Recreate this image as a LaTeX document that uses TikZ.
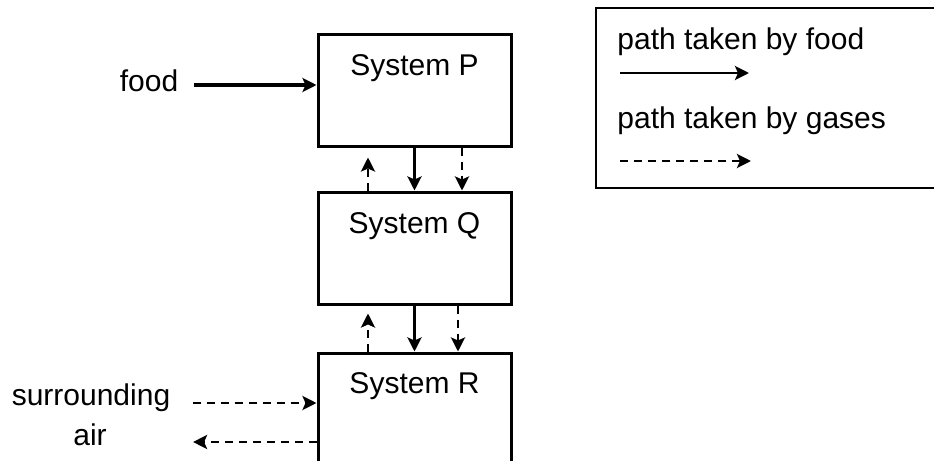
\documentclass[tikz,border=0pt]{standalone}
\usepackage{fontspec}
\setmainfont{Liberation Sans}
\usetikzlibrary{arrows.meta}

\tikzset{
  sysbox/.style={shape=rectangle,draw=black,line width=1.5pt,minimum width=96.5pt,minimum height=56pt},
  systext/.style={anchor=base,inner sep=0pt,font=\fontsize{15}{18}\selectfont},
  labeltext/.style={inner sep=0pt,font=\fontsize{15}{18}\selectfont},
  foodarrow/.style={line width=1.8pt,-{Stealth[length=7pt,width=7pt,inset=1.5pt]}},
  gasarrow/.style={line width=1.4pt,dash pattern=on 4pt off 3pt,-{Stealth[length=7pt,width=7pt,inset=1.5pt]}}
}

\begin{document}
\begin{tikzpicture}[x=0.5pt,y=-0.5pt]
		\useasboundingbox (0,0) rectangle (934,461);
		\clip (0,0) rectangle (934,461);
		% systems
		\node [sysbox] (P) at (414.5,90) {};
		\node [systext] (Ptext) at (414.5,75) {System P};
		\node [sysbox] (Q) at (414.5,248) {};
		\node [systext] (Qtext) at (414.5,233) {System Q};
		\node [sysbox,minimum height=70pt] (R) at (414.5,423) {};
		\node [systext] (Rtext) at (414.5,393) {System R};
		% arrows between the systems
		\coordinate (gasup) at (368,0);
		\coordinate (gasdownA) at (462,0);
		\coordinate (gasdownB) at (458,0);
		\draw [gasarrow,shorten >=5pt] (gasup |- Q.north) -- (gasup |- P.south);
		\draw [foodarrow] (P) -- (Q);
		\draw [gasarrow] (gasdownA |- P.south) -- (gasdownA |- Q.north);
		\draw [gasarrow,shorten >=4pt] (gasup |- R.north) -- (gasup |- Q.south);
		\draw [foodarrow] (Q) -- (R);
		\draw [gasarrow] (gasdownB |- Q.south) -- (gasdownB |- R.north);
		% inputs
		\node [labeltext,anchor=base] (food) at (149,91) {food};
		\draw [foodarrow] ([xshift=7.5pt,yshift=3pt]food.base east) -- ([yshift=3pt]food.base east -| P.west);
		\node [labeltext,anchor=base] (surr) at (91,405) {surrounding};
		\node [labeltext,anchor=base] (air) at (90,445) {air};
		\draw [gasarrow] ([xshift=11pt,yshift=1pt]surr.base east) -- ([yshift=1pt]surr.base east -| R.west);
		\draw [gasarrow] ([yshift=1.5pt]air.base east -| R.west) -- ([xshift=43pt,yshift=1.5pt]air.base east);
		% key
		\draw [line width=1.4pt] (596,8) rectangle (960,188);
		\node [labeltext,anchor=base west] (foodkey) at (617,49) {path taken by food};
		\coordinate (foodkeyA) at (620,73);
		\coordinate (foodkeyB) at (749,73);
		\draw [foodarrow,line width=1.4pt] (foodkeyA) -- (foodkeyB);
		\node [labeltext,anchor=base west] (gaskey) at (617,128) {path taken by gases};
		\coordinate (gaskeyA) at (620,161);
		\coordinate (gaskeyB) at (751,161);
		\draw [gasarrow] (gaskeyA) -- (gaskeyB);
	\end{tikzpicture}
\end{document}
